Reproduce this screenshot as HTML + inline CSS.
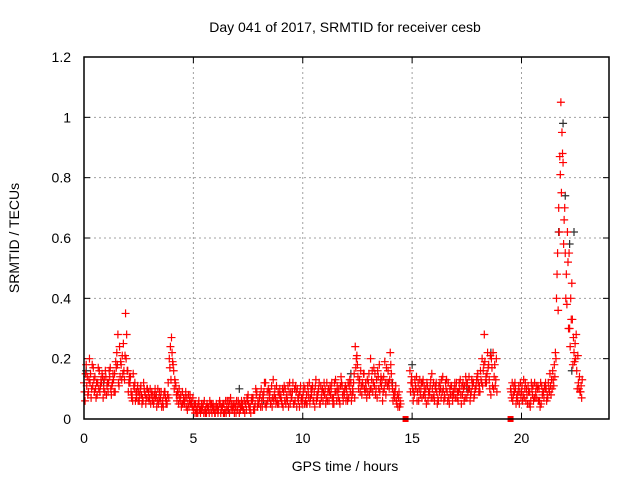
<!DOCTYPE html>
<html><head><meta charset="utf-8"><style>
body{margin:0;background:#fff}
svg{display:block;font-family:"Liberation Sans",sans-serif}
</style></head><body>
<svg id="chart" width="640" height="480" viewBox="0 0 640 480">
<text x="345" y="32" font-size="14" text-anchor="middle" fill="#000">Day 041 of 2017, SRMTID for receiver cesb</text>
<text x="345" y="471" font-size="14" text-anchor="middle" fill="#000">GPS time / hours</text>
<text transform="translate(19,238) rotate(-90)" font-size="14" text-anchor="middle" fill="#000">SRMTID / TECUs</text>
<g id="grid"></g>
<g id="axes"></g>
<g id="marks"></g>
<rect x="84" y="57" width="525" height="362" fill="none" stroke="#000" stroke-width="1.5"/>
</svg>
<script>
const xTicks=[0,5,10,15,20];
const yTicks=[0,0.2,0.4,0.6,0.8,1,1.2];
const yTickLabels=["0","0.2","0.4","0.6","0.8","1","1.2"];
const redA=[
.12,.18,.09,.15,.11,.14,.08,.16,.12,.10,
.14,.09,.17,.12,.15,.22,.11,.18,.25,.35,
.16,.12,.08,.10,.07,.09,.11,.06,.08,.10,
.07,.09,.06,.08,.05,.07,.06,.09,.05,.20,
.27,.16,.11,.08,.06,.09,.05,.07,.04,.06,
.03,.05,.02,.04,.03,.06,.02,.04,.03,.05,
.02,.04,.06,.03,.05,.02,.04,.07,.03,.05,
.04,.02,.06,.03,.05,.08,.04,.06,.03,.09,
.05,.10,.07,.12,.06,.09,.04,.08,.11,.05,
.08,.04,.10,.06,.12,.07,.05,.09,.06,.11,
.07,.10,.05,.12,.08,.06,.13,.09,.05,.10,
.08,.12,.06,.10,.07,.13,.09,.05,.11,.08,
.10,.07,.12,.09,.24,.18,.13,.08,.15,.10,
.12,.20,.09,.15,.07,.18,.11,.14,.08,.16,
.22,.10,.07,.05,.09,null,null,null,null,.16,
.12,.08,.14,.06,.10,.13,.07,.11,.09,.15,
.08,.12,.06,.10,.14,.07,.09,.05,.11,.08,
.10,.06,.13,.08,.11,.07,.14,.09,.12,.10,
.15,.09,.20,.28,.12,.18,.08,.22,.11,null,
null,null,null,null,null,.10,.06,.12,.08,.05,
.09,.13,.06,.11,.04,.08,.12,.07,.10,.05,
.09,.12,.07,.15,.10,.18,.40,.70,1.05,.85,
.55,.62,.30,.45,.22,.28,.12,.09];
const redB=[
.06,.14,.20,.10,.13,.07,.17,.11,.14,.09,
.11,.16,.08,.13,.19,.28,.14,.21,.13,.28,
.12,.09,.15,.06,.11,.08,.05,.10,.07,.09,
.05,.08,.10,.06,.09,.04,.08,.05,.12,.24,
.19,.13,.06,.10,.04,.07,.09,.05,.08,.04,
.05,.02,.06,.03,.05,.02,.04,.06,.02,.04,
.05,.03,.02,.05,.03,.06,.02,.05,.04,.02,
.06,.03,.05,.02,.07,.04,.06,.03,.10,.06,
.08,.04,.12,.05,.09,.06,.13,.07,.05,.10,
.05,.11,.07,.04,.09,.12,.06,.10,.04,.07,
.11,.05,.09,.07,.11,.04,.08,.12,.07,.09,
.05,.09,.11,.07,.12,.06,.10,.14,.06,.11,
.06,.13,.08,.15,.20,.10,.16,.11,.09,.13,
.08,.13,.17,.10,.14,.12,.06,.19,.12,.10,
.15,.08,.11,.04,.06,null,null,null,null,.12,
.06,.11,.09,.13,.07,.11,.05,.09,.13,.07,
.11,.05,.09,.13,.06,.10,.12,.08,.06,.12,
.07,.12,.05,.10,.14,.09,.06,.11,.08,.13,
.09,.13,.16,.12,.22,.10,.17,.14,.20,null,
null,null,null,null,null,.07,.11,.05,.09,.12,
.06,.10,.08,.05,.12,.06,.09,.11,.04,.08,
.11,.06,.10,.08,.13,.22,.55,.87,.95,.66,
.48,.30,.40,.18,.25,.10,.14,.07];
const redC=[
.09,.11,.13,.07,.17,.10,.12,.09,.15,.13,
.08,.12,.10,.15,.09,.18,.24,.13,.16,.20,
.09,.14,.06,.12,.09,.06,.08,.12,.05,.07,
.10,.06,.08,.04,.07,.09,.04,.07,.08,.17,
.22,.10,.08,.05,.08,.05,.07,.03,.06,.05,
.04,.03,.05,.02,.04,.03,.05,.02,.05,.03,
.04,.02,.05,.04,.02,.04,.06,.03,.05,.04,
.03,.05,.04,.06,.03,.05,.02,.07,.05,.04,
.07,.06,.09,.04,.10,.05,.07,.10,.06,.08,
.06,.09,.05,.11,.05,.09,.10,.04,.08,.06,
.09,.06,.11,.05,.10,.09,.06,.10,.11,.06,
.10,.06,.09,.12,.05,.09,.07,.11,.08,.10,
.08,.11,.06,.12,.17,.14,.09,.12,.10,.07,
.15,.10,.12,.08,.16,.09,.13,.10,.17,.12,
.18,.06,.09,.08,.04,null,null,null,null,.09,
.10,.13,.06,.10,.12,.08,.10,.06,.11,.10,
.06,.09,.11,.07,.10,.12,.06,.10,.08,.10,
.12,.09,.08,.12,.07,.12,.10,.13,.07,.11,
.12,.16,.11,.19,.15,.13,.20,.10,.13,null,
null,null,null,null,null,.09,.08,.10,.06,.09,
.11,.07,.10,.09,.06,.11,.07,.10,.06,.11,
.07,.10,.12,.11,.16,.14,.48,.62,.75,.58,
.40,.52,.24,.33,.19,.16,.10,.11];
const redD=[
.15,.08,.12,.18,.09,.12,.10,.13,.07,.16,
.12,.14,.11,.09,.17,.12,.19,.15,.21,.16,
.14,.07,.11,.09,.06,.10,.07,.09,.10,.06,
.08,.05,.07,.10,.06,.05,.09,.06,.07,.13,
.18,.12,.09,.07,.05,.06,.04,.08,.05,.07,
.02,.04,.03,.05,.02,.04,.03,.05,.04,.02,
.03,.05,.04,.02,.06,.03,.05,.04,.02,.06,
.05,.04,.03,.05,.06,.03,.07,.04,.08,.05,
.04,.08,.05,.09,.07,.11,.06,.05,.09,.07,
.10,.06,.08,.09,.07,.05,.11,.07,.09,.05,
.05,.08,.07,.10,.06,.11,.07,.05,.09,.12,
.07,.10,.08,.05,.09,.11,.06,.12,.09,.06,
.12,.09,.10,.07,.21,.12,.11,.15,.12,.09,
.10,.16,.11,.13,.10,.14,.09,.12,.11,.13,
.12,.09,.06,.07,.05,null,null,null,null,.14,
.09,.10,.12,.08,.12,.09,.12,.08,.07,.12,
.10,.07,.12,.09,.08,.13,.07,.11,.09,.07,
.09,.10,.11,.06,.12,.10,.08,.12,.10,.14,
.11,.12,.18,.14,.17,.21,.11,.18,.09,null,
null,null,null,null,null,.12,.09,.07,.11,.07,
.08,.12,.05,.09,.10,.07,.11,.06,.12,.09,
.10,.08,.09,.13,.11,.20,.36,.81,.88,.70,
.38,.55,.33,.27,.20,.21,.09,.13];
const blackTimes=[0.1,0.9,3.3,6.6,7.1,8.2,12.2,14.1,15.0,17.5,18.6,21.7,21.9,22.0,22.2,22.4,22.3];
const blackValues=[0.16,0.12,0.08,0.03,0.10,0.06,0.15,0.12,0.18,0.10,0.22,0.62,0.98,0.74,0.58,0.62,0.16];
const gapTimes=[14.7,19.5];
const gapValues=[0,0];

const X0=84,X1=609,Y0=419,Y1=57,XMAX=24,YMAX=1.2;
const xs=t=>X0+t/XMAX*(X1-X0);
const ys=v=>Y0-v/YMAX*(Y0-Y1);
const NS="http://www.w3.org/2000/svg";
function mk(tag,attrs,parent){const e=document.createElementNS(NS,tag);for(const k in attrs)e.setAttribute(k,attrs[k]);parent.appendChild(e);return e;}
const grid=document.getElementById('grid'),axes=document.getElementById('axes'),marks=document.getElementById('marks');
xTicks.forEach((t,i)=>{
  const x=xs(t);
  if(i>0){const g=mk('line',{x1:x,y1:Y0,x2:x,y2:Y1,stroke:'#a0a0a0','stroke-dasharray':'2,3'},grid);
  
  }
  mk('line',{x1:x,y1:Y0,x2:x,y2:Y0-6,stroke:'#000'},axes);
  mk('line',{x1:x,y1:Y1,x2:x,y2:Y1+6,stroke:'#000'},axes);
  const lb=mk('text',{x:x,y:443,'font-size':14,'text-anchor':'middle',fill:'#000'},axes);
  lb.textContent=String(t);
  
  
});
yTicks.forEach((v,i)=>{
  const y=ys(v);
  if(i>0&&i<yTicks.length-1){const g=mk('line',{x1:X0,y1:y,x2:X1,y2:y,stroke:'#a0a0a0','stroke-dasharray':'2,3'},grid);
  
  }
  mk('line',{x1:X0,y1:y,x2:X0+6,y2:y,stroke:'#000'},axes);
  mk('line',{x1:X1,y1:y,x2:X1-6,y2:y,stroke:'#000'},axes);
  const lb=mk('text',{x:71,y:y+5,'font-size':14,'text-anchor':'end',fill:'#000'},axes);
  lb.textContent=yTickLabels[i];
  
  
});
function plus(t,v,color,name){
  const x=xs(t),y=ys(v);
  const p=mk('path',{d:`M${x-4},${y}H${x+4}M${x},${y-4}V${y+4}`,stroke:color,'stroke-width':1.2,fill:'none'},marks);
  
  
}
blackTimes.forEach((t,i)=>plus(t,blackValues[i],'#303030','black-point'));
redA.forEach((v,i)=>{if(v!==null)plus(i*0.1,v,'#ff0000','red-point');});
redB.forEach((v,i)=>{if(v!==null)plus(i*0.1+0.05,v,'#ff0000','red-point');});
redC.forEach((v,i)=>{if(v!==null)plus(i*0.1+0.025,v,'#ff0000','red-point');});
redD.forEach((v,i)=>{if(v!==null)plus(i*0.1+0.075,v,'#ff0000','red-point');});
gapTimes.forEach((t,i)=>{
  const r=mk('rect',{x:xs(t)-3,y:ys(gapValues[i])-3,width:6,height:6,fill:'#ff0000'},marks);
  
  
});
</script>
</body></html>
